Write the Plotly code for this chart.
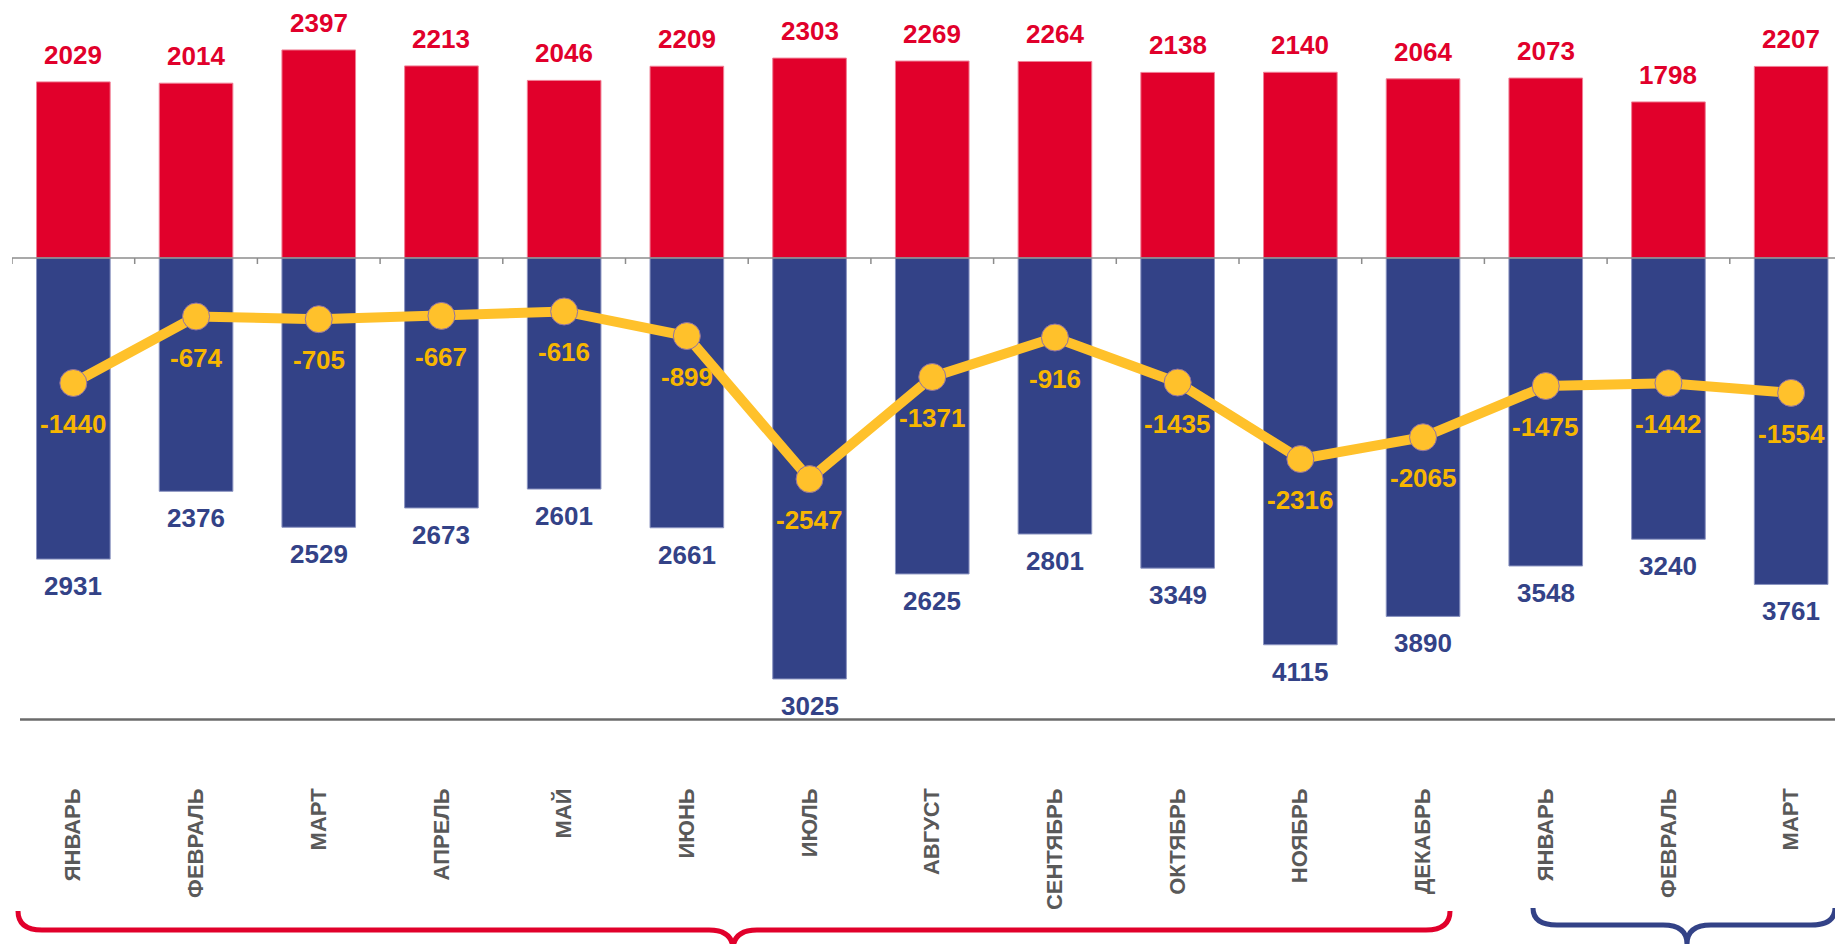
import plotly.graph_objects as go

months = ["ЯНВАРЬ", "ФЕВРАЛЬ", "МАРТ", "АПРЕЛЬ", "МАЙ", "ИЮНЬ", "ИЮЛЬ", "АВГУСТ",
          "СЕНТЯБРЬ", "ОКТЯБРЬ", "НОЯБРЬ", "ДЕКАБРЬ", "ЯНВАРЬ", "ФЕВРАЛЬ", "МАРТ"]
red_values = [2029, 2014, 2397, 2213, 2046, 2209, 2303, 2269, 2264, 2138, 2140, 2064, 2073, 1798, 2207]
blue_bar_lengths = [3469, 2688, 3102, 2880, 2662, 3108, 4850, 3640, 3180, 3573, 4456, 4129, 3548, 3240, 3761]
blue_labels = [2931, 2376, 2529, 2673, 2601, 2661, 3025, 2625, 2801, 3349, 4115, 3890, 3548, 3240, 3761]
balance = [-1440, -674, -705, -667, -616, -899, -2547, -1371, -916, -1435, -2316, -2065, -1475, -1442, -1554]

RED = "#E1002B"
BLUE = "#334287"
YELLOW = "#FFC12B"
YEL_TXT = "#F7B600"
GRAY_TXT = "#595959"
FONT = "Liberation Sans, Arial, sans-serif"

W, H = 1835, 944
ML, MR, MT, MB = 12, 0, 0, 225
PW = W - ML - MR
PH = H - MT - MB
PX_PER_CAT = 122.7
X_RANGE = [-0.5, -0.5 + PW / PX_PER_CAT]
ZERO_PX = 258
UNITS_PER_PX = 1 / 0.0868
Y_RANGE = [-(PH - ZERO_PX) * UNITS_PER_PX, ZERO_PX * UNITS_PER_PX]

x = list(range(len(months)))

fig = go.Figure()
fig.add_trace(go.Bar(x=x, y=red_values, marker=dict(color=RED, line=dict(color="#F07F95", width=1)),
                     width=0.6, hoverinfo="skip"))
fig.add_trace(go.Bar(x=x, y=[-v for v in blue_bar_lengths],
                     marker=dict(color=BLUE, line=dict(color="#8A93C0", width=1)),
                     width=0.6, hoverinfo="skip"))
fig.add_trace(go.Scatter(x=x, y=balance, mode="lines+markers",
                         line=dict(color=YELLOW, width=10),
                         marker=dict(size=27, color=YELLOW, line=dict(color="#8F72A6", width=1)),
                         hoverinfo="skip"))

annotations = []
for i in x:
    annotations.append(dict(x=i, y=red_values[i], xref="x", yref="y", text=f"<b>{red_values[i]}</b>",
                            showarrow=False, yshift=27, font=dict(family=FONT, size=26, color=RED)))
    annotations.append(dict(x=i, y=-blue_bar_lengths[i], xref="x", yref="y", text=f"<b>{blue_labels[i]}</b>",
                            showarrow=False, yshift=-27, font=dict(family=FONT, size=26, color=BLUE)))
    annotations.append(dict(x=i, y=balance[i], xref="x", yref="y", text=f"<b>{balance[i]}</b>",
                            showarrow=False, yshift=-41, font=dict(family=FONT, size=26, color=YEL_TXT)))


def px_x(px):
    return (px - ML) / PW


def px_y(py):
    return (MT + PH - py) / PH


def brace(x0, xm, x1, ytop, ybot, ytip, r):
    p = (f"M {px_x(x0)},{px_y(ytop)} Q {px_x(x0)},{px_y(ybot)} {px_x(x0 + r)},{px_y(ybot)} "
         f"L {px_x(xm - r)},{px_y(ybot)} Q {px_x(xm)},{px_y(ybot)} {px_x(xm)},{px_y(ytip)} "
         f"Q {px_x(xm)},{px_y(ybot)} {px_x(xm + r)},{px_y(ybot)} "
         f"L {px_x(x1 - r)},{px_y(ybot)} Q {px_x(x1)},{px_y(ybot)} {px_x(x1)},{px_y(ytop)}")
    return p


ZCOL = "#8C8C8C"
shapes = [
    dict(type="line", xref="paper", yref="paper", x0=px_x(20), x1=1.0, y0=px_y(719.5), y1=px_y(719.5),
         line=dict(color="#6B6B6B", width=2.5)),
    dict(type="line", xref="paper", yref="y", x0=0, x1=1.0, y0=0, y1=0,
         line=dict(color=ZCOL, width=1.5), layer="above"),
    dict(type="path", xref="paper", yref="paper", path=brace(18, 733, 1450, 911, 930, 950, 24),
         line=dict(color=RED, width=5)),
    dict(type="path", xref="paper", yref="paper", path=brace(1533, 1687, 1835, 908, 925, 944, 24),
         line=dict(color=BLUE, width=5)),
]
for i in range(len(months) + 1):
    shapes.append(dict(type="line", xref="x", yref="paper", x0=i - 0.5, x1=i - 0.5,
                       y0=px_y(ZERO_PX), y1=px_y(ZERO_PX + 6), line=dict(color=ZCOL, width=1.5),
                       layer="below"))

fig.update_layout(
    width=W, height=H,
    margin=dict(l=ML, r=MR, t=MT, b=MB),
    paper_bgcolor="white", plot_bgcolor="white",
    barmode="relative", bargap=0.4,
    showlegend=False,
    xaxis=dict(range=X_RANGE, tickmode="array", tickvals=x,
               ticktext=[f"<b>{m}</b>" for m in months], tickangle=-90,
               tickfont=dict(family=FONT, size=22, color=GRAY_TXT),
               ticks="", showline=False, showgrid=False, zeroline=False,
               ticklabelstandoff=64, fixedrange=True),
    yaxis=dict(range=Y_RANGE, visible=False, showgrid=False, zeroline=False, fixedrange=True),
    annotations=annotations,
    shapes=shapes,
)

fig.write_html("out.html", config={"displayModeBar": False},
               post_script="document.body.style.margin='0';document.body.style.overflow='hidden';")
